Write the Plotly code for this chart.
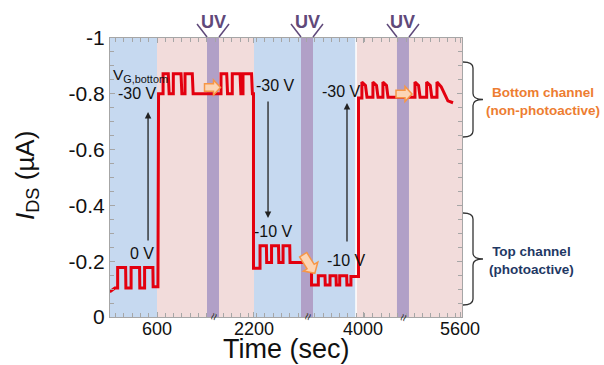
import math
import plotly.graph_objects as go

# ---------------- data ----------------
time_s = [
    -180, -95, -50, -50, 82, 86, 172, 172, 312, 316, 395, 395, 532, 536, 615, 615, 625, 625,
    700, 700, 786, 800, 869, 869, 996, 1010, 1062, 1062, 1182, 1196, 1656, 1656, 1750, 1764,
    1842, 1842, 1970, 1984, 2019, 2019, 2160, 2174, 2192, 2192,
    2300, 2300, 2405, 2410, 2490, 2490, 2605, 2610, 2680, 2680, 2790, 2795, 3150, 3150,
    3262, 3262, 3372, 3376, 3455, 3455, 3554, 3558, 3615, 3615, 3730, 3734, 3800, 3800, 3925, 3925,
    3981, 3981, 4040, 4065, 4163, 4163, 4222, 4247, 4328, 4328, 4387, 4412, 4857, 4857, 4916, 4941,
    5050, 5050, 5109, 5134, 5220, 5220, 5290, 5400, 5485,
]
ids_uA = [
    -0.090, -0.104, -0.104, -0.177, -0.177, -0.104, -0.104, -0.177, -0.177, -0.104, -0.104, -0.177,
    -0.177, -0.108, -0.108, -0.177, -0.177, -0.800,
    -0.800, -0.872, -0.872, -0.800, -0.800, -0.872, -0.872, -0.800, -0.800, -0.872, -0.872, -0.800,
    -0.800, -0.872, -0.872, -0.800, -0.800, -0.872, -0.872, -0.800, -0.800, -0.872, -0.872, -0.800,
    -0.800, -0.175,
    -0.175, -0.255, -0.255, -0.195, -0.195, -0.255, -0.255, -0.195, -0.195, -0.255, -0.255, -0.195,
    -0.195, -0.115,
    -0.115, -0.148, -0.148, -0.115, -0.115, -0.148, -0.148, -0.115, -0.115, -0.148, -0.148, -0.115,
    -0.115, -0.145, -0.145, -0.785,
    -0.785, -0.842, -0.830, -0.788, -0.788, -0.842, -0.830, -0.788, -0.788, -0.842, -0.830, -0.788,
    -0.788, -0.842, -0.830, -0.788, -0.788, -0.842, -0.830, -0.788, -0.788, -0.842, -0.825, -0.775,
    -0.768,
]

blue_spans = [(-176, 600), (2200, 3884)]
pink_spans = [(600, 2200), (3884, 5633)]
uv_spans = [(1425, 1623), (2976, 3174), (4560, 4758)]

x_tick_vals = [600, 2200, 4000, 5600]
x_tick_text = ["600", "2200", "4000", "5600"]
y_tick_vals = [-1, -0.8, -0.6, -0.4, -0.2, 0]
y_tick_text = ["-1", "-0.8", "-0.6", "-0.4", "-0.2", "0"]

# gate-voltage labels: (time, current, text)
volt_labels = [
    (270, -0.800, "-30 V"),
    (352, -0.226, "0 V"),
    (2563, -0.828, "-30 V"),
    (2530, -0.308, "-10 V"),
    (3652, -0.810, "-30 V"),
    (3735, -0.204, "-10 V"),
]
# black arrows: (time, tail current, head current)
sweep_arrows = [(452, -0.269, -0.735), (2432, -0.778, -0.355), (3735, -0.265, -0.767)]

# ---------------- geometry ----------------
W, H = 604, 365
ML, MR, MT, MB = 110, 142, 38, 48
PW, PH = W - ML - MR, H - MT - MB
XMIN, XMAX = -176, 5633

def pxp(xp):
    return (xp - ML) / PW

def pyp(yp):
    return (H - MB - yp) / PH

def x2px(x):
    return ML + (x - XMIN) / (XMAX - XMIN) * PW

FONT = "Liberation Sans, Arial, sans-serif"
RED = "#e3000f"
BLUE_BG = "#c6d9f0"
PINK_BG = "#f2dcdb"
UV_COL = "#b1a0c7"
UV_TXT = "#5f497a"

fig = go.Figure()
fig.add_trace(go.Scatter(x=time_s, y=ids_uA, mode="lines",
                         line=dict(color=RED, width=3), hoverinfo="skip",
                         showlegend=False))

shapes = []
for a, b in blue_spans:
    shapes.append(dict(type="rect", xref="x", yref="paper", x0=a, x1=b, y0=0, y1=1,
                       fillcolor=BLUE_BG, line=dict(width=0), layer="below"))
for a, b in pink_spans:
    shapes.append(dict(type="rect", xref="x", yref="paper", x0=a, x1=b, y0=0, y1=1,
                       fillcolor=PINK_BG, line=dict(width=0), layer="below"))
for a, b in uv_spans:
    shapes.append(dict(type="rect", xref="x", yref="paper", x0=a, x1=b, y0=0, y1=1,
                       fillcolor=UV_COL, line=dict(width=0), layer="below"))
# white divider
shapes.append(dict(type="line", xref="x", yref="paper", x0=3884, x1=3884, y0=0, y1=1,
                   line=dict(color="white", width=1.5), layer="below"))

# UV "V" lines
for a, b in uv_spans:
    la, lb = x2px(a), x2px(b)
    for x0, x1 in ((la, la - 10), (lb, lb + 10)):
        shapes.append(dict(type="line", xref="paper", yref="paper",
                           x0=pxp(x0), y0=pyp(37), x1=pxp(x1), y1=pyp(24),
                           line=dict(color=UV_TXT, width=1.5)))

def block_arrow(cx, cy, L, bh, hh, hl, ang):
    pts = [(-L / 2, -bh), (L / 2 - hl, -bh), (L / 2 - hl, -hh), (L / 2, 0),
           (L / 2 - hl, hh), (L / 2 - hl, bh), (-L / 2, bh)]
    c, s = math.cos(math.radians(ang)), math.sin(math.radians(ang))
    out = []
    for x, y in pts:
        X = cx + x * c - y * s
        Y = cy + x * s + y * c
        out.append(f"{pxp(X):.5f},{pyp(Y):.5f}")
    return "M " + " L ".join(out) + " Z"

for cx, cy, L, bh, hh, hl, ang in [(212.5, 87.5, 16, 3.8, 7.5, 7, 0),
                                   (309, 264, 22, 4.2, 8.5, 8, 58),
                                   (404, 94, 16, 3.8, 7.5, 7, 0)]:
    shapes.append(dict(type="path", xref="paper", yref="paper",
                       path=block_arrow(cx, cy, L, bh, hh, hl, ang),
                       fillcolor="#fcd5b5", line=dict(color="#f79646", width=1.5),
                       layer="above"))

def brace(x0, yt, yb, w, r):
    ym = (yt + yb) / 2
    x1, x2 = x0 + w, x0 + 2 * w
    P = lambda x, y: f"{pxp(x):.5f},{pyp(y):.5f}"
    return (f"M {P(x0, yt)} Q {P(x1, yt)} {P(x1, yt + r)} L {P(x1, ym - r)} "
            f"Q {P(x1, ym)} {P(x2, ym)} Q {P(x1, ym)} {P(x1, ym + r)} "
            f"L {P(x1, yb - r)} Q {P(x1, yb)} {P(x0, yb)}")

for yt, yb in [(62, 137), (213, 305)]:
    shapes.append(dict(type="path", xref="paper", yref="paper",
                       path=brace(463, yt, yb, 10, 6),
                       line=dict(color="#333333", width=1.3)))

annotations = []
for a, b in uv_spans:
    annotations.append(dict(x=(a + b) / 2, xref="x", y=pyp(21.5), yref="paper",
                            text="<b>UV</b>", showarrow=False,
                            font=dict(size=18, color=UV_TXT, family=FONT),
                            xanchor="center", yanchor="middle"))
    annotations.append(dict(x=(a + b) / 2, xref="x", y=0, yref="paper",
                            text="≈", showarrow=False, textangle=-70,
                            font=dict(size=13, color="#333333", family=FONT),
                            xanchor="center", yanchor="middle"))

annotations.append(dict(x=-159, y=-0.867, xref="x", yref="y", text="V<sub>G,bottom</sub>",
                        showarrow=False, xanchor="left", yanchor="middle",
                        font=dict(size=15.5, color="#111111", family=FONT)))
for x, y, t in volt_labels:
    annotations.append(dict(x=x, y=y, xref="x", yref="y", text=t, showarrow=False,
                            xanchor="center", yanchor="middle",
                            font=dict(size=16, color="#111111", family=FONT)))
for x, y0, y1 in sweep_arrows:
    annotations.append(dict(x=x, y=y1, ax=x, ay=y0, xref="x", yref="y", axref="x", ayref="y",
                            text="", showarrow=True, arrowhead=2, arrowsize=1,
                            arrowwidth=1.3, arrowcolor="#222222", standoff=0, startstandoff=0))

annotations.append(dict(x=pxp(543), y=pyp(101), xref="paper", yref="paper",
                        text="<b>Bottom channel<br>(non-photoactive)</b>", showarrow=False,
                        font=dict(size=13.5, color="#ed7d31", family=FONT),
                        xanchor="center", yanchor="middle"))
annotations.append(dict(x=pxp(531), y=pyp(260), xref="paper", yref="paper",
                        text="<b>Top channel<br>(photoactive)</b>", showarrow=False,
                        font=dict(size=13.5, color="#1f3864", family=FONT),
                        xanchor="center", yanchor="middle"))
annotations.append(dict(x=0.5, y=pyp(365), xref="paper", yref="paper",
                        text="Time (sec)", showarrow=False, borderpad=0,
                        font=dict(size=27, color="#111111", family=FONT),
                        xanchor="center", yanchor="bottom"))
annotations.append(dict(x=pxp(26), y=pyp(176), xref="paper", yref="paper",
                        text="<i>I</i><sub>DS</sub> (µA)", showarrow=False, textangle=-90,
                        font=dict(size=26, color="#111111", family=FONT),
                        xanchor="center", yanchor="middle"))

AX = "#a6a6a6"
fig.update_layout(
    width=W, height=H, autosize=False,
    margin=dict(l=ML, r=MR, t=MT, b=MB, pad=0),
    paper_bgcolor="white", plot_bgcolor="white",
    shapes=shapes, annotations=annotations, showlegend=False,
    xaxis=dict(range=[XMIN, XMAX], tickmode="array", tickvals=x_tick_vals, ticktext=x_tick_text,
               ticks="inside", ticklen=5, tickcolor=AX, tickwidth=1,
               showline=True, linecolor=AX, linewidth=1.2, mirror="allticks",
               showgrid=False, zeroline=False, ticklabelstandoff=-5,
               tickfont=dict(size=18, color="#111111", family=FONT),
               minor=dict(ticks="inside", ticklen=4, tickcolor=AX, tick0=600, dtick=137,
                          showgrid=False)),
    yaxis=dict(range=[0, -1], tickmode="array", tickvals=y_tick_vals, ticktext=y_tick_text,
               ticks="inside", ticklen=5, tickcolor=AX, tickwidth=1,
               showline=True, linecolor=AX, linewidth=1.2, mirror="allticks",
               showgrid=False, zeroline=False,
               tickfont=dict(size=21, color="#111111", family=FONT),
               minor=dict(ticks="inside", ticklen=4, tickcolor=AX, dtick=0.05,
                          showgrid=False)),
)

fig.write_html("out.html")
